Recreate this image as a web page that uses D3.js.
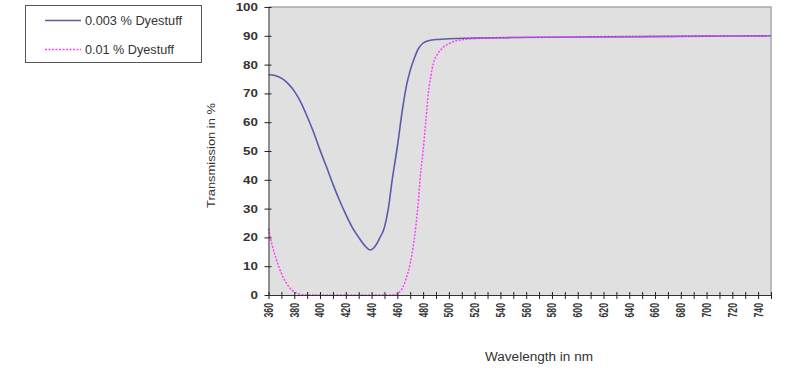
<!DOCTYPE html>
<html><head><meta charset="utf-8">
<script src="https://cdn.jsdelivr.net/npm/d3@7"></script>
<style>body{margin:0;background:#fff;} text{font-family:"Liberation Sans",Arial,sans-serif;fill:#333;}</style>
</head><body><svg id="c" width="800" height="373"></svg>
<script>
const seriesNames = ["0.003 % Dyestuff", "0.01 % Dyestuff"];
const blueWl = [360,365,370,375,380,385,390,395,400,405,410,415,420,425,430,435,439,442,446,450,453,456,460,464,467,470,473,476,480,485,490,500,520,550,600,650,700,750];
const blueT  = [76.5,76.2,75.3,73.5,70.8,67,62,56.5,50.3,44.5,38.5,33,28,23.5,20,17,15.6,16.5,19.5,23.5,30,40,51.5,64.5,72.5,78,82,85.3,87.5,88.4,88.7,89,89.2,89.4,89.6,89.7,89.9,90];
const pinkWl = [360,363,366,370,374,378,382,386,390,420,455,458,461,464,467,470,473,476,478,480,482,484,486,488,491,495,500,505,510,520,530,550,600,650,700,750];
const pinkT  = [23,17,12.5,7.5,4,1.8,0.6,0.1,0,0,0,0.1,0.8,2.5,6,11,19,31,42,50,60,70,76,80.5,83.5,85.8,87.3,88.2,88.6,89,89.2,89.4,89.6,89.7,89.9,90];
const xTicks = d3.range(360, 751, 10);
const xLabels = d3.range(360, 741, 20);
const yTicks = d3.range(0, 101, 10);
const xTitle = "Wavelength  in nm";
const yTitle = "Transmission in %";

const svg = d3.select("#c");
const x = d3.scaleLinear().domain([360, 750]).range([268.5, 771]);
const y = d3.scaleLinear().domain([0, 100]).range([295, 7]);

// plot background
svg.append("rect").attr("x", x(360)).attr("y", y(100)).attr("width", x(750) - x(360)).attr("height", y(0) - y(100))
  .attr("fill", "#e0e0e0");
svg.append("path").attr("d", `M${x(360)},${y(100)}H${x(750)}V${y(0)}`).attr("fill", "none").attr("stroke", "#a8a8a8").attr("stroke-width", 1.5);

// lines
const line = (wl, t) => d3.line().x((d, i) => x(wl[i])).y(d => y(d)).curve(d3.curveMonotoneX)(t);
svg.append("path").attr("d", line(blueWl, blueT)).attr("fill", "none").attr("stroke", "#5a5aae").attr("stroke-width", 1.6);
svg.append("path").attr("d", line(pinkWl, pinkT)).attr("fill", "none").attr("stroke", "#ff40ff").attr("stroke-width", 1.5).attr("stroke-dasharray", "2,1.5");

// axes
const ya = svg.append("g").attr("transform", `translate(${x(360)},0)`)
  .call(d3.axisLeft(y).tickValues(yTicks).tickFormat("").tickSizeOuter(0));
ya.select(".domain").attr("stroke", "#333");
ya.selectAll(".tick line").attr("x1", -4).attr("x2", 3).attr("stroke", "#222");
const xa = svg.append("g").attr("transform", `translate(0,${y(0)})`)
  .call(d3.axisBottom(x).tickValues(xTicks).tickFormat("").tickSizeOuter(0));
xa.select(".domain").attr("stroke", "#333");
xa.selectAll(".tick line").attr("y1", -3).attr("y2", 4).attr("stroke", "#222");

// y tick labels
svg.selectAll(".yl").data(yTicks).enter().append("text")
  .attr("transform", d => `translate(258,${y(d) + 4}) scale(1.25,1)`)
  .attr("text-anchor", "end").attr("font-size", 10.7).attr("font-weight", "bold").attr("fill", "#333")
  .text(d => d);

// x tick labels
svg.selectAll(".xl").data(xLabels).enter().append("text")
  .attr("transform", d => `translate(${x(d)},303) scale(1.25,1) rotate(-90)`)
  .attr("text-anchor", "end").attr("dy", "0.36em").attr("font-size", 9.8).attr("font-weight", "bold")
  .attr("textLength", 14.5).attr("lengthAdjust", "spacingAndGlyphs")
  .text(d => d);

// titles
svg.append("text").attr("transform", "translate(215,155.5) rotate(-90)").attr("text-anchor", "middle")
  .attr("font-size", 10.7).attr("textLength", 105).attr("lengthAdjust", "spacingAndGlyphs").text(yTitle);
svg.append("text").attr("x", 485).attr("y", 360.5).attr("font-size", 12.5)
  .attr("textLength", 108).attr("lengthAdjust", "spacingAndGlyphs").text(xTitle);

// legend
svg.append("rect").attr("x", 25.5).attr("y", 5.5).attr("width", 176).attr("height", 57).attr("fill", "#fff").attr("stroke", "#555");
svg.append("line").attr("x1", 45).attr("x2", 81).attr("y1", 20.5).attr("y2", 20.5).attr("stroke", "#5a5aae").attr("stroke-width", 1.5);
svg.append("line").attr("x1", 45).attr("x2", 81).attr("y1", 49.5).attr("y2", 49.5).attr("stroke", "#ff40ff").attr("stroke-width", 1.5).attr("stroke-dasharray", "2,1.5");
svg.append("text").attr("x", 85).attr("y", 25).attr("font-size", 12).attr("textLength", 97).attr("lengthAdjust", "spacingAndGlyphs").text(seriesNames[0]);
svg.append("text").attr("x", 85).attr("y", 53.5).attr("font-size", 12).attr("textLength", 89).attr("lengthAdjust", "spacingAndGlyphs").text(seriesNames[1]);
</script></body></html>
